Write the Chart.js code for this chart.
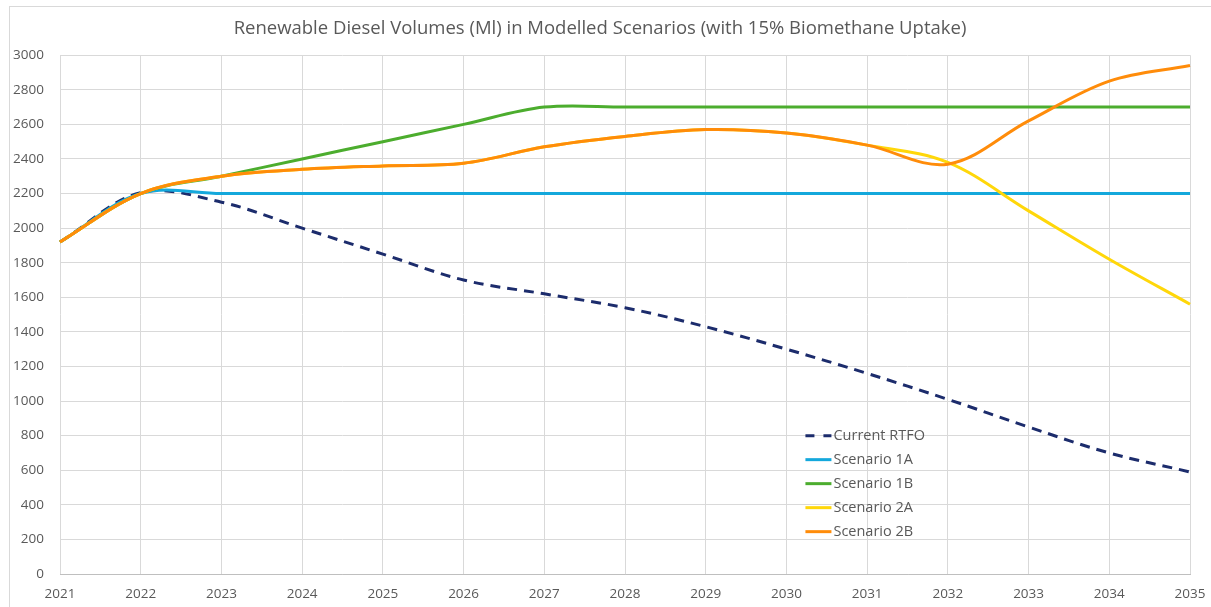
<!DOCTYPE html>
<html>
<head>
<meta charset="utf-8">
<script src="https://cdn.jsdelivr.net/npm/chart.js@4.4.1/dist/chart.umd.min.js"></script>
<style>
  html, body { margin: 0; padding: 0; background: #fff; overflow: hidden; }
  #wrap {
    position: absolute; left: 9px; top: 6px;
    width: 1215px; height: 600px;
    border: 1px solid #d9d9d9;
  }
</style>
</head>
<body>
<div id="wrap"><canvas id="chart"></canvas></div>
<script>
// data
const years = ["2021","2022","2023","2024","2025","2026","2027","2028","2029","2030","2031","2032","2033","2034","2035"];
const currentRtfo = [1920, 2205, 2150, 2000, 1850, 1700, 1620, 1540, 1430, 1300, 1160, 1010, 850, 700, 590];
const scenario1A  = [1920, 2200, 2200, 2200, 2200, 2200, 2200, 2200, 2200, 2200, 2200, 2200, 2200, 2200, 2200];
const scenario1B  = [1920, 2200, 2300, 2400, 2500, 2600, 2700, 2700, 2700, 2700, 2700, 2700, 2700, 2700, 2700];
const scenario2A  = [1920, 2200, 2300, 2340, 2360, 2375, 2470, 2530, 2570, 2550, 2480, 2380, 2100, 1820, 1560];
const scenario2B  = [1920, 2200, 2300, 2340, 2360, 2375, 2470, 2530, 2570, 2550, 2480, 2370, 2620, 2850, 2940];

const TEXT = "#595959";
const FONT = "'Open Sans', 'DejaVu Sans', sans-serif";

// legend drawn inside the plot, bottom right like the original
const insideLegend = {
  id: "insideLegend",
  afterDraw(chart) {
    const ctx = chart.ctx;
    const x0 = chart.scales.x.getPixelForValue(9) + 19;
    let y = chart.scales.y.getPixelForValue(800) + 0;
    ctx.save();
    ctx.font = "14.5px " + FONT;
    ctx.textBaseline = "middle";
    chart.data.datasets.forEach((ds) => {
      ctx.beginPath();
      ctx.strokeStyle = ds.borderColor;
      ctx.lineWidth = 3;
      ctx.setLineDash(ds.borderDash ? [9, 9] : []);
      ctx.moveTo(x0, y);
      ctx.lineTo(x0 + 26, y);
      ctx.stroke();
      ctx.setLineDash([]);
      ctx.fillStyle = TEXT;
      ctx.fillText(ds.label, x0 + 28, y);
      y += 24;
    });
    ctx.restore();
  }
};

new Chart(document.getElementById("chart").getContext("2d"), {
  type: "line",
  data: {
    labels: years,
    datasets: [
      { label: "Current RTFO", data: currentRtfo, borderColor: "#1c2c6c", borderDash: [10, 7], borderWidth: 3, order: 5 },
      { label: "Scenario 1A", data: scenario1A, borderColor: "#14a8dc", borderWidth: 3, order: 4 },
      { label: "Scenario 1B", data: scenario1B, borderColor: "#4cad2e", borderWidth: 3, order: 3 },
      { label: "Scenario 2A", data: scenario2A, borderColor: "#ffd70a", borderWidth: 3, order: 2 },
      { label: "Scenario 2B", data: scenario2B, borderColor: "#ff8c0a", borderWidth: 3, order: 1 }
    ]
  },
  options: {
    responsive: true,
    maintainAspectRatio: false,
    animation: false,
    elements: {
      point: { radius: 0 },
      line: { tension: 0.35, fill: false, borderCapStyle: "butt" }
    },
    layout: { padding: { left: 0, right: 35, top: 0, bottom: 0 } },
    plugins: {
      legend: { display: false },
      tooltip: { enabled: false },
      title: {
        display: true,
        text: "Renewable Diesel Volumes (Ml) in Modelled Scenarios (with 15% Biomethane Uptake)",
        color: TEXT,
        font: { family: FONT, size: 18.5, weight: "normal" },
        padding: { top: 11, bottom: 15 }
      }
    },
    scales: {
      x: {
        grid: { color: "#d9d9d9", drawTicks: false },
        border: { color: "#bfbfbf" },
        ticks: { color: TEXT, font: { family: FONT, size: 13.5 }, padding: 12, maxRotation: 0, autoSkip: false },
        afterFit(scale) { scale.height = 33; }
      },
      y: {
        min: 0,
        max: 3000,
        grid: { color: "#d9d9d9", drawTicks: false },
        border: { display: false },
        ticks: {
          stepSize: 200, color: TEXT, font: { family: FONT, size: 13.5 }, padding: 16,
          callback: (v) => String(v)
        },
        afterFit(scale) { scale.width = 50; }
      }
    }
  },
  plugins: [insideLegend]
});
</script>
</body>
</html>
